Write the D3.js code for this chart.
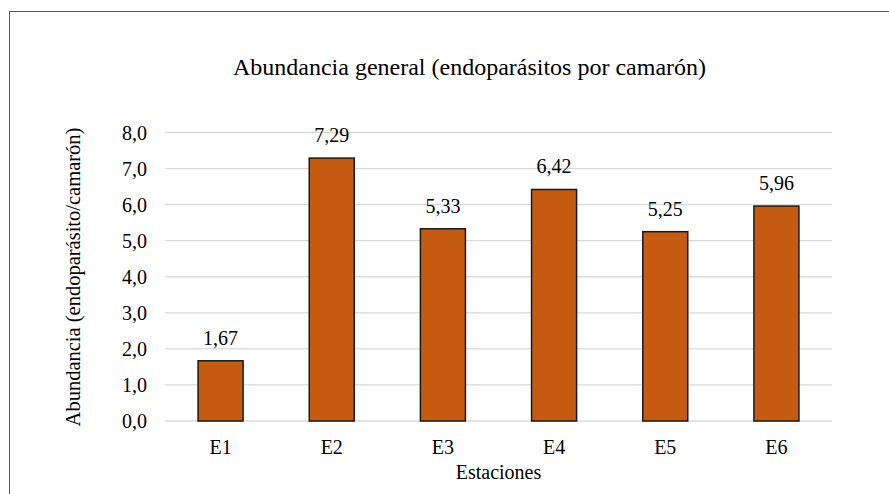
<!DOCTYPE html>
<html>
<head>
<meta charset="utf-8">
<script src="https://cdn.jsdelivr.net/npm/d3@7"></script>
</head>
<body style="margin:0; padding:0; background:#fff;">
<svg id="chart" width="889" height="494" font-family="Liberation Serif" style="display:block"></svg>
<script>
// Abundancia de endoparásitos por estación
const stations = ["E1", "E2", "E3", "E4", "E5", "E6"];
const abundance = [1.67, 7.29, 5.33, 6.42, 5.25, 5.96];
const yTicks = [0, 1, 2, 3, 4, 5, 6, 7, 8];

const title = "Abundancia general (endoparásitos por camarón)";
const xTitle = "Estaciones";
const yTitle = "Abundancia (endoparásito/camarón)";

const FONT = "Liberation Serif";
const svg = d3.select("#chart");
const W = 889, H = 494;
const margin = { left: 165, right: 57, top: 132.5, bottom: 73 };

const x = d3.scaleBand()
  .domain(stations)
  .range([margin.left, W - margin.right])
  .paddingInner(0.595)
  .paddingOuter(0.2975);

const y = d3.scaleLinear()
  .domain([0, 8])
  .range([H - margin.bottom, margin.top]);

const fmt = v => d3.format(".1f")(v).replace(".", ",");
const fmt2 = v => d3.format(".2f")(v).replace(".", ",");

function styleText(sel, size) {
  sel.style("font-family", FONT)
    .style("font-size", size + "px")
    .style("fill", "#000");
}

// chart frame
svg.append("rect")
  .attr("x", 9.5).attr("y", 11.5)
  .attr("width", W + 10).attr("height", H + 10)
  .attr("fill", "none")
  .attr("stroke", "#595959")
  .attr("stroke-width", 1);

// gridlines
svg.append("g")
  .selectAll("line")
  .data(yTicks)
  .join("line")
  .attr("x1", margin.left).attr("x2", W - margin.right)
  .attr("y1", d => y(d)).attr("y2", d => y(d))
  .attr("stroke", "#d9d9d9")
  .attr("stroke-width", 1.3);

// y tick labels
svg.append("g")
  .selectAll("text")
  .data(yTicks)
  .join("text")
  .attr("x", margin.left - 18)
  .attr("y", d => y(d) + 7)
  .attr("text-anchor", "end")
  .call(styleText, 20)
  .text(fmt);

// category labels
svg.append("g")
  .selectAll("text")
  .data(stations)
  .join("text")
  .attr("x", d => x(d) + x.bandwidth() / 2)
  .attr("y", y(0) + 33)
  .attr("text-anchor", "middle")
  .call(styleText, 20)
  .text(d => d);

// bars
svg.append("g")
  .selectAll("rect")
  .data(stations)
  .join("rect")
  .attr("x", d => x(d))
  .attr("y", (d, i) => y(abundance[i]))
  .attr("width", x.bandwidth())
  .attr("height", (d, i) => y(0) - y(abundance[i]))
  .attr("fill", "#c55a11")
  .attr("stroke", "#1a1a1a")
  .attr("stroke-width", 1.5);

// value labels
svg.append("g")
  .selectAll("text")
  .data(stations)
  .join("text")
  .attr("x", d => x(d) + x.bandwidth() / 2)
  .attr("y", (d, i) => y(abundance[i]) - 16)
  .attr("text-anchor", "middle")
  .call(styleText, 20)
  .text((d, i) => fmt2(abundance[i]));

// title
svg.append("text")
  .attr("x", 469.5)
  .attr("y", 74.5)
  .attr("text-anchor", "middle")
  .call(styleText, 24)
  .text(title);

// axis titles
svg.append("text")
  .attr("x", (x.range()[0] + x.range()[1]) / 2)
  .attr("y", 479)
  .attr("text-anchor", "middle")
  .call(styleText, 20)
  .text(xTitle);

svg.append("text")
  .attr("transform", `translate(80,277) rotate(-90)`)
  .attr("text-anchor", "middle")
  .call(styleText, 20.5)
  .text(yTitle);
</script>
</body>
</html>
